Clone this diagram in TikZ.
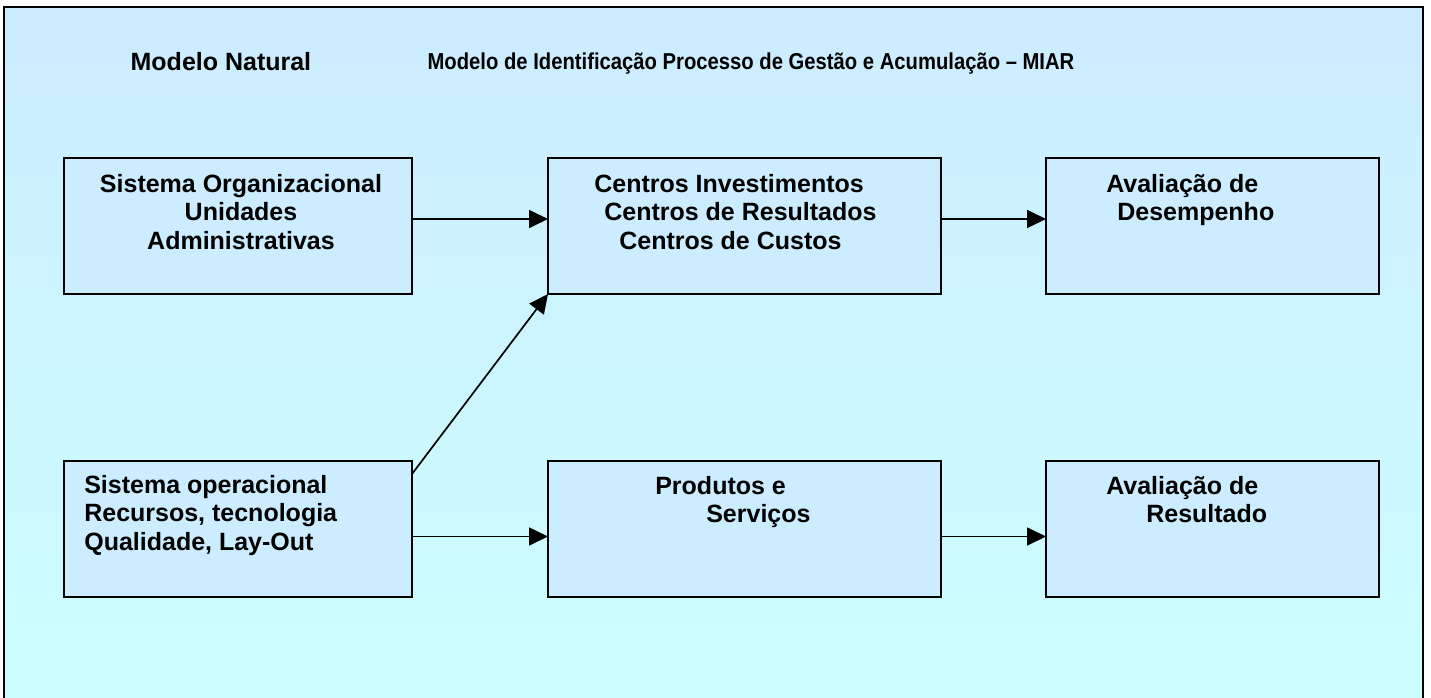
\documentclass[tikz,border=0pt]{standalone}
\usepackage{fontspec}
\setmainfont{Liberation Sans}
\newfontfamily\estreita[FakeStretch=0.88]{Liberation Sans}
\usetikzlibrary{positioning, arrows.meta}
\definecolor{fundoTopo}{RGB}{204,236,255}
\definecolor{fundoBase}{RGB}{204,255,255}
\definecolor{azulCaixa}{RGB}{204,236,255}

\begin{document}
\begin{tikzpicture}[x=1pt,y=-1pt,semithick,
		font=\fontsize{25pt}{28.5pt}\selectfont\bfseries,
		caixa/.style={rectangle, draw=black, line width=1.6pt, fill=azulCaixa,
			minimum height=136pt, inner sep=0pt, outer sep=0pt},
		texto/.style={inner sep=0pt, align=left},
		seta/.style={-{Triangle[length=19pt,width=18pt]}, line width=1.7pt}]
		\useasboundingbox (0,0) rectangle (1431,698);
		\shade[top color=fundoTopo, bottom color=fundoBase] (4,7) rectangle (1423,720);
		\draw[line width=2pt] (4,7) rectangle (1423,720);

		\node[anchor=base west] 	(natural) 	at (127,71)		{Modelo Natural};
		\node[anchor=base west, font=\estreita\fontsize{23pt}{27pt}\selectfont\bfseries]
			(miar) 		at (424,70)		{Modelo de Identificação Processo de Gestão e Acumulação – MIAR};

		\node[caixa, minimum width=348pt, anchor=north west] (so) at (64,158) {};
		\node[caixa, minimum width=393pt] 	(ci) 	[right=136pt of so]		{};
		\node[caixa, minimum width=333pt] 	(ad) 	[right=105pt of ci]		{};
		\node[caixa, minimum width=348pt] 	(sop) 	[below=167pt of so]		{};
		\node[caixa, minimum width=393pt] 	(ps) 	[below=167pt of ci]		{};
		\node[caixa, minimum width=333pt] 	(ar) 	[below=167pt of ad]		{};

		\node[texto, align=center, anchor=north] (txtso) at ([xshift=3pt,yshift=-16pt]so.north)
			{Sistema Organizacional\\Unidades\\Administrativas};
		\node[texto] 	(txtci) 	[below right=16pt and 46pt of ci.north west]
			{Centros Investimentos\\\hspace*{10pt}Centros de Resultados\\\hspace*{25pt}Centros de Custos};
		\node[texto] 	(txtad) 	[below right=16pt and 60pt of ad.north west]
			{Avaliação de\\\hspace*{11pt}Desempenho};
		\node[texto] 	(txtsop) 	[below right=14pt and 20pt of sop.north west]
			{Sistema operacional\\Recursos, tecnologia\\Qualidade, Lay-Out};
		\node[texto] 	(txtps) 	[below right=15pt and 107pt of ps.north west]
			{Produtos e\\\hspace*{51pt}Serviços};
		\node[texto] 	(txtar) 	[below right=15pt and 60pt of ar.north west]
			{Avaliação de\\\hspace*{40pt}Resultado};

		\path[seta]
			([yshift=7pt]so.east) 		edge 	([yshift=7pt]ci.west)
			([yshift=7pt]ci.east) 		edge 	([yshift=7pt]ad.west)
			([yshift=-7.5pt]sop.east) 	edge 	([yshift=-7.5pt]ps.west)
			([yshift=-7.5pt]ps.east) 	edge 	([yshift=-7.5pt]ar.west)
			([yshift=-13pt]sop.north east)	edge	(ci.south west)
			;
	\end{tikzpicture}
\end{document}
